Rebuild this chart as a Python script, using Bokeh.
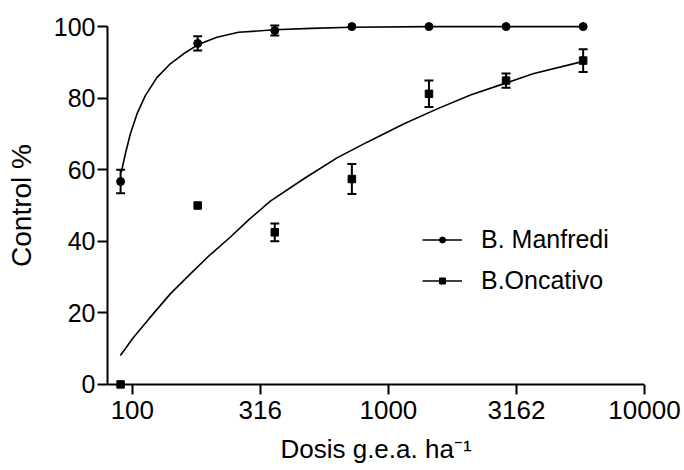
from bokeh.plotting import figure
from bokeh.models import (Range1d, FixedTicker, Whisker, TeeHead, ColumnDataSource,
                          Legend, LegendItem, Span)
from bokeh.embed import file_html
from bokeh.resources import INLINE

# ---- data ----
doses = [90, 180, 360, 720, 1440, 2880, 5760]
manfredi = [56.7, 95.3, 98.9, 100, 100, 100, 100]
manfredi_err = [3.3, 2.0, 1.4, 0, 0, 0, 0]
oncativo = [0, 50, 42.5, 57.4, 81.2, 84.9, 90.5]
oncativo_err = [0, 0, 2.5, 4.2, 3.7, 2.0, 3.2]

manfredi_fit_x = [90.6, 93.9, 98.2, 104.3, 112.4, 124.9, 140.7, 158.6, 179.9, 214, 260,
                  359, 500, 716, 1432, 2864, 5760]
manfredi_fit_y = [59.3, 64.4, 70.0, 75.6, 80.7, 85.8, 89.6, 92.4, 94.9, 97.0, 98.4,
                  99.1, 99.5, 99.8, 100, 100, 100]
oncativo_fit_x = [89.8, 101.2, 117.6, 140.7, 168.5, 201.8, 241.6, 284.6, 346, 466, 630,
                  826, 1146, 1551, 2092, 2868, 3670, 5710]
oncativo_fit_y = [8.1, 13.2, 18.8, 25.3, 30.9, 36.3, 41.2, 46.0, 51.2, 57.4, 63.3,
                  67.7, 72.8, 77.0, 80.9, 84.2, 86.8, 90.2]

x_tick_labels = ["100", "316", "1000", "3162", "10000"]
y_ticks = [0, 20, 40, 60, 80, 100]
series_names = ["B. Manfredi", "B.Oncativo"]
x_title = "Dosis g.e.a. ha\u207b\u00b9"
y_title = "Control %"

FONT = "Liberation Sans"

p = figure(width=684, height=470, x_axis_type="log",
           x_range=Range1d(80, 10000), y_range=Range1d(-1.7, 101.7),
           output_backend="svg", toolbar_location=None,
           min_border_left=107, min_border_right=40, min_border_top=20, min_border_bottom=80)
p.outline_line_color = None
p.xgrid.visible = False
p.ygrid.visible = False
p.background_fill_color = "white"

# axes
xa = p.xaxis[0]
xa.ticker = FixedTicker(ticks=[float(t) for t in x_tick_labels], minor_ticks=[])
xa.major_label_overrides = {float(t): t for t in x_tick_labels}
xa.axis_line_color = None
xa.major_tick_in = 6
xa.major_tick_out = 4
xa.major_label_standoff = 6
xa.major_label_text_font_size = "26px"
xa.axis_label = x_title
xa.axis_label_standoff = 12
xa.axis_label_text_font_size = "26px"

ya = p.yaxis[0]
ya.ticker = FixedTicker(ticks=y_ticks, minor_ticks=[])
ya.bounds = (0, 100)
ya.axis_line_width = 2
ya.axis_line_color = "black"
ya.major_tick_out = 10
ya.major_tick_in = 0
ya.major_label_standoff = 2
ya.major_label_text_font_size = "25px"
ya.axis_label = y_title
ya.axis_label_standoff = 14
ya.axis_label_text_font_size = "28px"

for ax in (xa, ya):
    ax.major_tick_line_width = 2
    ax.major_tick_line_color = "black"
    ax.minor_tick_line_color = None
    ax.major_label_text_font = FONT
    ax.major_label_text_color = "black"
    ax.axis_label_text_font = FONT
    ax.axis_label_text_font_style = "normal"
    ax.axis_label_text_color = "black"

# x axis line drawn at y = 0
p.add_layout(Span(location=0, dimension="width", line_color="black", line_width=2))

# fitted curves
l1 = p.line(manfredi_fit_x, manfredi_fit_y, line_color="black", line_width=1.6)
l2 = p.line(oncativo_fit_x, oncativo_fit_y, line_color="black", line_width=1.6)

# error bars (only where an error exists)
def add_whisker(ys, errs):
    xs = [d for d, e in zip(doses, errs) if e > 0]
    lo = [y - e for y, e in zip(ys, errs) if e > 0]
    hi = [y + e for y, e in zip(ys, errs) if e > 0]
    src = ColumnDataSource(dict(x=xs, lower=lo, upper=hi))
    w = Whisker(source=src, base="x", lower="lower", upper="upper", dimension="height",
                line_width=2, line_color="black",
                upper_head=TeeHead(size=9, line_width=2, line_color="black"),
                lower_head=TeeHead(size=9, line_width=2, line_color="black"))
    p.add_layout(w)

add_whisker(manfredi, manfredi_err)
add_whisker(oncativo, oncativo_err)

s1 = p.scatter(doses, manfredi, marker="circle", size=8, fill_color="black", line_color="black")
s2 = p.scatter(doses, oncativo, marker="square", size=7.5, fill_color="black", line_color="black")

legend = Legend(items=[LegendItem(label=series_names[0], renderers=[l1, s1]),
                       LegendItem(label=series_names[1], renderers=[l2, s2])],
                location=(315, 92), padding=0, margin=0, spacing=5,
                glyph_width=40, glyph_height=15, label_height=36, label_standoff=19,
                label_text_font=FONT, label_text_font_size="25px", label_text_color="black",
                border_line_color=None, background_fill_alpha=0)
p.add_layout(legend)

open("out.html", "w").write(file_html(p, INLINE))
